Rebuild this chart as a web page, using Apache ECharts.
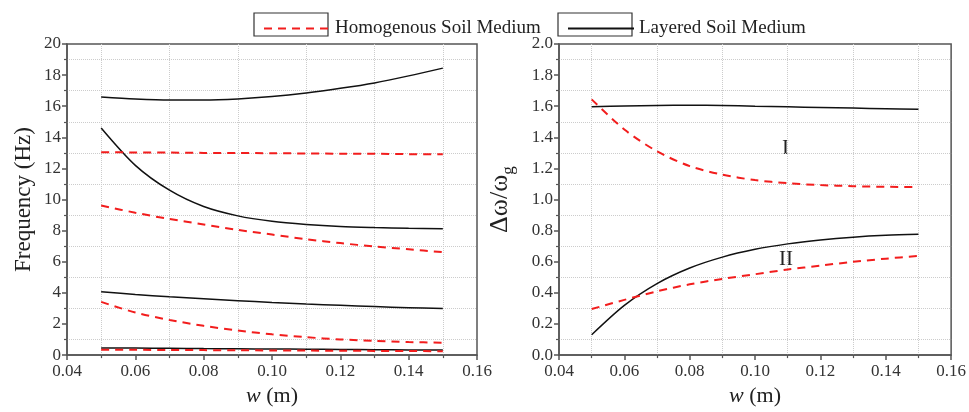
<!DOCTYPE html>
<html>
<head>
<meta charset="utf-8">
<script src="https://cdn.jsdelivr.net/npm/echarts@6/dist/echarts.min.js"></script>
<style>
  html, body { margin: 0; padding: 0; background: #fff; }
  #chart { width: 969px; height: 412px; }
</style>
</head>
<body>
<div id="chart"></div>
<script>
// 横坐标 w (m)
const wValues = [0.05, 0.06, 0.07, 0.08, 0.09, 0.10, 0.11, 0.12, 0.13, 0.14, 0.15]

// 左图：频率 (Hz)，层状土
const layered1 = [16.6, 16.47, 16.4, 16.4, 16.47, 16.62, 16.85, 17.15, 17.5, 17.95, 18.45]
const layered2 = [14.6, 12.2, 10.6, 9.55, 8.95, 8.6, 8.4, 8.27, 8.2, 8.15, 8.12]
const layered3 = [4.07, 3.9, 3.75, 3.62, 3.5, 3.38, 3.28, 3.2, 3.12, 3.05, 2.99]
const layered4 = [0.46, 0.45, 0.44, 0.42, 0.41, 0.39, 0.38, 0.36, 0.35, 0.33, 0.32]
// 左图：均质土
const homo1 = [13.04, 13.03, 13.02, 13.0, 12.99, 12.98, 12.96, 12.95, 12.94, 12.92, 12.91]
const homo2 = [9.62, 9.15, 8.75, 8.4, 8.05, 7.75, 7.45, 7.2, 6.98, 6.8, 6.62]
const homo3 = [3.42, 2.74, 2.26, 1.88, 1.58, 1.34, 1.15, 1.01, 0.91, 0.84, 0.8]
const homo4 = [0.35, 0.34, 0.33, 0.32, 0.31, 0.3, 0.29, 0.28, 0.27, 0.26, 0.25]

// 右图：Δω/ωg
const layeredI = [1.597, 1.602, 1.605, 1.606, 1.605, 1.6, 1.596, 1.592, 1.588, 1.584, 1.58]
const layeredII = [0.131, 0.32, 0.46, 0.56, 0.63, 0.68, 0.715, 0.74, 0.758, 0.77, 0.777]
const homoI = [1.644, 1.45, 1.31, 1.215, 1.16, 1.125, 1.105, 1.093, 1.086, 1.082, 1.08]
const homoII = [0.296, 0.355, 0.41, 0.455, 0.49, 0.52, 0.55, 0.575, 0.6, 0.62, 0.638]

const homoName = 'Homogenous Soil Medium'
const layeredName = 'Layered Soil Medium'

const font = 'Liberation Serif'
const axisColor = '#555'
const red = '#f21d1d'

const toPairs = (arr) => wValues.map((w, i) => [w, arr[i]])

function lineSeries(name, arr, gridIdx) {
    const isHomo = name === homoName
    return {
        name: name,
        type: 'line',
        xAxisIndex: gridIdx,
        yAxisIndex: gridIdx,
        data: toPairs(arr),
        smooth: 0.3,
        symbol: 'none',
        lineStyle: isHomo
            ? { color: red, width: 2, type: [8, 6] }
            : { color: '#111', width: 1.5 },
        itemStyle: { color: isHomo ? red : '#111' },
    }
}

function xAxis(gridIdx) {
    return {
        type: 'value',
        gridIndex: gridIdx,
        min: 0.04,
        max: 0.16,
        interval: 0.02,
        name: '{i|w} (m)',
        nameLocation: 'middle',
        nameGap: 27,
        nameTextStyle: {
            fontFamily: font, fontSize: 22, color: '#222',
            rich: { i: { fontFamily: font, fontStyle: 'italic', fontSize: 22, color: '#222' } },
        },
        axisLine: { lineStyle: { color: axisColor, width: 1.5 } },
        axisTick: { show: true, length: 5, lineStyle: { color: axisColor, width: 1.5 } },
        minorTick: { show: true, splitNumber: 2, length: 3, lineStyle: { color: axisColor, width: 1.2 } },
        splitLine: { show: false },
        minorSplitLine: { show: true, lineStyle: { color: '#ccc', type: 'dotted', width: 1 } },
        axisLabel: {
            fontFamily: font, fontSize: 17, color: '#333', margin: 8,
            formatter: (v) => v.toFixed(2),
        },
    }
}

const legendText = { fontFamily: font, fontSize: 19, color: '#222' }

const myChart = echarts.init(document.getElementById('chart'))
myChart.setOption({
    animation: false,
    legend: [
        {
            data: [homoName], left: 258, top: 14, itemWidth: 66, itemHeight: 20, itemGap: 0,
            itemStyle: { opacity: 0 }, textStyle: legendText,
        },
        {
            data: [layeredName], left: 562, top: 14, itemWidth: 66, itemHeight: 20, itemGap: 0,
            itemStyle: { opacity: 0 }, textStyle: legendText,
        },
    ],
    graphic: [
        { type: 'rect', shape: { x: 254, y: 13, width: 74, height: 23 }, style: { fill: 'none', stroke: '#333', lineWidth: 1.2 } },
        { type: 'rect', shape: { x: 558, y: 13, width: 74, height: 23 }, style: { fill: 'none', stroke: '#333', lineWidth: 1.2 } },
        { type: 'text', left: 782, top: 138, style: { text: 'I', fontFamily: font, fontSize: 21, fill: '#222' } },
        { type: 'text', left: 779, top: 249, style: { text: 'II', fontFamily: font, fontSize: 21, fill: '#222' } },
    ],
    grid: [
        { left: 67, right: 492, top: 44, bottom: 52, show: true, borderColor: axisColor, borderWidth: 1.5 },
        { left: 559, right: 17, top: 44, bottom: 53, show: true, borderColor: axisColor, borderWidth: 1.5 },
    ],
    xAxis: [xAxis(0), xAxis(1)],
    yAxis: [
        {
            type: 'value', gridIndex: 0, min: 0, max: 20, interval: 2,
            name: 'Frequency (Hz)', nameLocation: 'middle', nameGap: 32,
            nameTextStyle: { fontFamily: font, fontSize: 23, color: '#222' },
            axisLine: { show: true, lineStyle: { color: axisColor, width: 1.5 } },
            axisTick: { show: true, length: 5, lineStyle: { color: axisColor, width: 1.5 } },
            minorTick: { show: true, splitNumber: 2, length: 3, lineStyle: { color: axisColor, width: 1.2 } },
            splitLine: { show: false },
            minorSplitLine: { show: true, lineStyle: { color: '#ccc', type: 'dotted', width: 1 } },
            axisLabel: { fontFamily: font, fontSize: 17, color: '#333', margin: 6 },
        },
        {
            type: 'value', gridIndex: 1, min: 0, max: 2, interval: 0.2,
            name: '{a|Δω/ω}{g|g}', nameLocation: 'middle', nameGap: 42,
            nameTextStyle: {
                fontFamily: font, fontSize: 24, color: '#222',
                rich: {
                    a: { fontFamily: font, fontSize: 26, color: '#222' },
                    g: { fontFamily: font, fontSize: 17, color: '#222', padding: [16, 0, 0, 0] },
                },
            },
            axisLine: { show: true, lineStyle: { color: axisColor, width: 1.5 } },
            axisTick: { show: true, length: 5, lineStyle: { color: axisColor, width: 1.5 } },
            minorTick: { show: true, splitNumber: 2, length: 3, lineStyle: { color: axisColor, width: 1.2 } },
            splitLine: { show: false },
            minorSplitLine: { show: true, lineStyle: { color: '#ccc', type: 'dotted', width: 1 } },
            axisLabel: { fontFamily: font, fontSize: 17, color: '#333', margin: 6, formatter: (v) => v.toFixed(1) },
        },
    ],
    series: [
        lineSeries(layeredName, layered1, 0),
        lineSeries(layeredName, layered2, 0),
        lineSeries(layeredName, layered3, 0),
        lineSeries(layeredName, layered4, 0),
        lineSeries(homoName, homo1, 0),
        lineSeries(homoName, homo2, 0),
        lineSeries(homoName, homo3, 0),
        lineSeries(homoName, homo4, 0),
        lineSeries(layeredName, layeredI, 1),
        lineSeries(layeredName, layeredII, 1),
        lineSeries(homoName, homoI, 1),
        lineSeries(homoName, homoII, 1),
    ],
})
</script>
</body>
</html>
